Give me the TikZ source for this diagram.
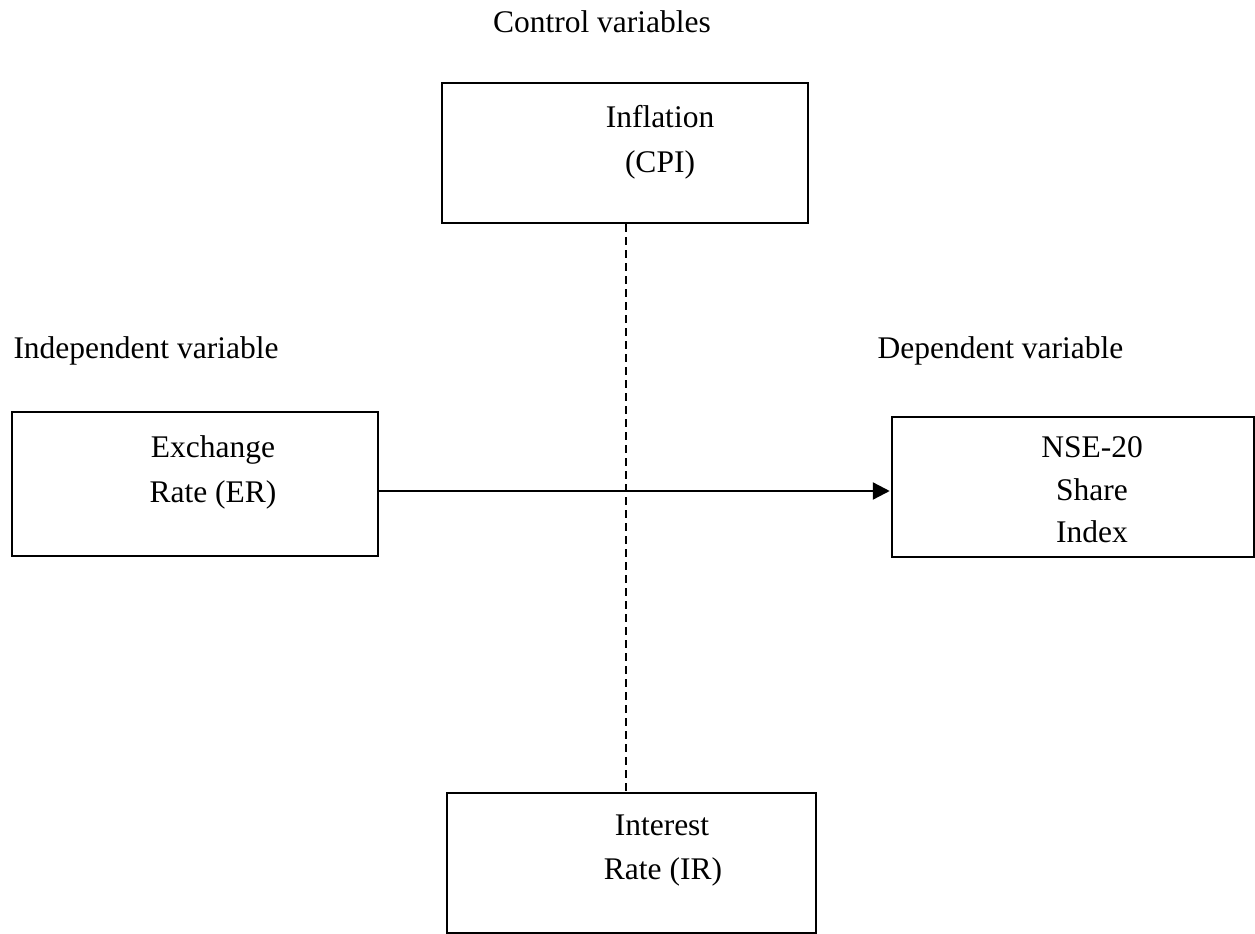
\documentclass[tikz,border=0pt]{standalone}
\usepackage{fontspec}
\setmainfont{Liberation Serif}
\usetikzlibrary{arrows.meta}
\begin{document}
\begin{tikzpicture}[x=1bp,y=-1bp,
  box/.style={draw=black,line width=2.5bp,minimum width=#1,inner sep=0pt},
  txt/.style={anchor=base,inner sep=0pt,font=\fontsize{31.5bp}{45bp}\selectfont},
  conn/.style={line width=2.4bp,-{Triangle[length=17bp,width=17bp]},shorten >=1bp},
  ctrl/.style={line width=1.4bp,dash pattern=on 8bp off 5bp}]
\useasboundingbox (0,0) rectangle (1255,934);
% boxes
\node[box=366bp,minimum height=144bp] (er) at (195,484) {};
\node[box=362bp,minimum height=140bp] (nse) at (1073,487) {};
\node[box=366bp,minimum height=140bp] (cpi) at (625,153) {};
\node[box=369bp,minimum height=140bp] (ir) at (631.5,863) {};
% headings
\node[txt] (hctrl) at (602,32) {Control variables};
\node[txt] (hind) at (146,358) {Independent variable};
\node[txt] (hdep) at (1000.5,358) {Dependent variable};
% box texts
\node[txt] (er1) at (213,457) {Exchange};
\node[txt] (er2) at (213,502) {Rate (ER)};
\node[txt] (nse1) at (1092,457) {NSE-20};
\node[txt] (nse2) at (1092,500) {Share};
\node[txt] (nse3) at (1092,542) {Index};
\node[txt] (cpi1) at (660,127) {Inflation};
\node[txt] (cpi2) at (660,172) {(CPI)};
\node[txt] (ir1) at (662,835) {Interest};
\node[txt] (ir2) at (663,879) {Rate (IR)};
% connectors
\coordinate (ay) at (0,491);
\coordinate (dx) at (626,0);
\draw[ctrl] (cpi.south -| dx) -- (ir.north -| dx);
\draw[conn] (er.east |- ay) -- (nse.west |- ay);
\end{tikzpicture}
\end{document}
